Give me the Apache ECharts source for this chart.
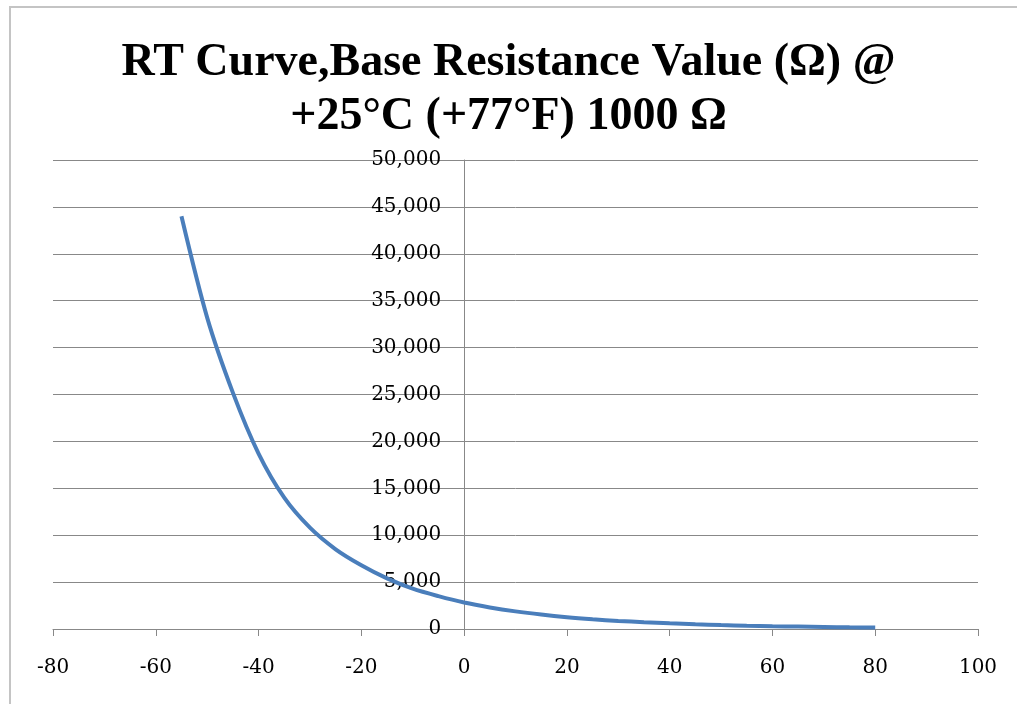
<!DOCTYPE html>
<html>
<head>
<meta charset="utf-8">
<script src="https://cdn.jsdelivr.net/npm/echarts@6/dist/echarts.min.js"></script>
<style>
	html, body { margin: 0; padding: 0; background: #fff; }
	#rtChart { width: 1017px; height: 704px; }
	.frame {
		position: absolute; left: 9px; top: 6px; right: 0; bottom: 0;
		border-left: 2px solid #c4c4c4; border-top: 2px solid #c4c4c4;
		pointer-events: none;
	}
</style>
</head>
<body>
<div class="frame"></div>
<div id="rtChart"></div>
<script>
// temperature (°C) and resistance (Ω)
const temps = [-55, -50, -45, -40, -35, -30, -25, -20, -15, -10, -5, 0, 5, 10, 15, 20, 25, 30, 35, 40, 45, 50, 55, 60, 65, 70, 75, 80]
const resist = [44000, 33200, 25200, 18700, 14000, 10800, 8500, 6800, 5400, 4300, 3500, 2820, 2300, 1880, 1540, 1260, 1040, 860, 720, 600, 500, 420, 355, 300, 255, 215, 180, 150]
const xTicks = [-80, 100, 20]
const yTicks = [0, 50000, 5000]

const chart = echarts.init(document.getElementById('rtChart'))
const serif = '"Liberation Serif", "DejaVu Serif", serif'
const labelFont = '"DejaVu Serif", serif'

// grid geometry, y axis sits at temperature 0
const gridLeft = 53
const gridRight = 39
const plotWidth = 1017 - gridLeft - gridRight
const zeroOffset = (0 - xTicks[0]) / (xTicks[1] - xTicks[0]) * plotWidth

chart.setOption({
	animation: false,
	title: {
		text: 'RT Curve,Base Resistance Value (Ω) @\n+25°C (+77°F) 1000 Ω',
		left: 'center',
		top: 31,
		textStyle: {
			fontFamily: serif,
			fontWeight: 'bold',
			fontSize: 46,
			lineHeight: 54,
			color: '#000'
		}
	},
	grid: { left: gridLeft, right: gridRight, top: 160, bottom: 75, outerBoundsMode: 'none' },
	xAxis: {
		type: 'value',
		min: xTicks[0],
		max: xTicks[1],
		interval: xTicks[2],
		axisLine: { show: true, onZero: false, lineStyle: { color: '#888', width: 1 } },
		axisTick: { show: true, length: 7, lineStyle: { color: '#888' } },
		axisLabel: { color: '#000', fontFamily: labelFont, fontSize: 20, margin: 29 },
		splitLine: { show: false }
	},
	yAxis: {
		type: 'value',
		min: yTicks[0],
		max: yTicks[1],
		interval: yTicks[2],
		offset: -zeroOffset,
		axisLine: { show: true, onZero: false, lineStyle: { color: '#888', width: 1 } },
		axisTick: { show: false },
		axisLabel: {
			color: '#000', fontFamily: labelFont, fontSize: 20, margin: 23,
			formatter: v => v.toLocaleString('en-US')
		},
		splitLine: { show: true, lineStyle: { color: '#888', width: 1 } }
	},
	series: [{
		type: 'line',
		data: temps.map((t, i) => [t, resist[i]]),
		smooth: 0.3,
		showSymbol: false,
		lineStyle: { color: '#4a7ebb', width: 4 },
		z: 3
	}]
})
</script>
</body>
</html>
